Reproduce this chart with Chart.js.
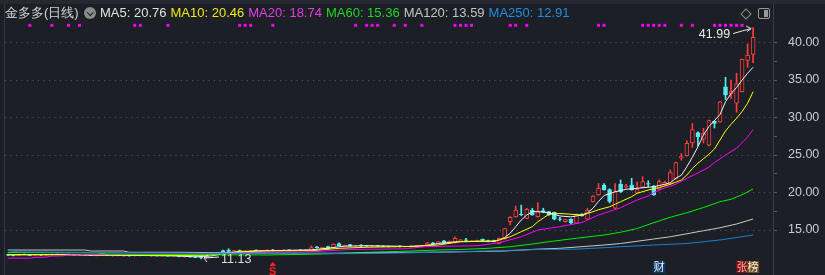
<!DOCTYPE html>
<html>
<head>
<meta charset="utf-8">
<script src="https://cdn.jsdelivr.net/npm/chart.js@4.4.1/dist/chart.umd.min.js"></script>
<style>
html, body { margin: 0; padding: 0; background: #1c1f26; }
#wrap { position: relative; width: 825px; height: 275px; overflow: hidden; background: #1c1f26; }
#kline { position: absolute; left: 0; top: 0; }
.topbar { position: absolute; left: 0; top: 0; width: 825px; height: 4px; background: #262930; }
.hd { position: absolute; top: 5px; font: 13px "Liberation Sans", Arial, sans-serif; line-height: 16px; white-space: nowrap; }
#legend { left: 100px; display: flex; gap: 4px; }
.ico { position: absolute; left: 84px; top: 7px; width: 12px; height: 12px; border-radius: 50%; background: #8a8a8a; }
.ico:after { content: ""; position: absolute; left: 3.5px; top: 2.5px; width: 3.5px; height: 3.5px; border-right: 1.5px solid #1c1f26; border-bottom: 1.5px solid #1c1f26; transform: rotate(45deg); }
.diamond { position: absolute; left: 742px; top: 10px; width: 6px; height: 6px; border: 1px solid #8a8a8a; transform: rotate(45deg); }
.panel { position: absolute; left: 758px; top: 8px; width: 10px; height: 9px; border: 1px solid #9a9a9a; border-radius: 2px; }
.panel:after { content: ""; position: absolute; right: 1px; top: 1px; width: 4px; height: 7px; background: #9a9a9a; }
</style>
</head>
<body>
<div id="wrap">
  <canvas id="kline" width="825" height="275"></canvas>
  <div class="topbar"></div>
  <div class="hd" style="left:5px;color:#d4d4d4">金多多(日线)</div>
  <div class="ico"></div>
  <div class="hd" id="legend"></div>
  <div class="diamond"></div>
  <div class="panel"></div>
</div>
<script>
// K线数据
const candleOpen = [
  11.70,11.65,11.62,11.75,11.72,11.60,11.68,11.66,11.70,11.76,
  11.72,11.74,11.70,11.66,11.72,11.68,11.62,11.60,11.70,11.56,
  11.66,11.52,11.58,11.55,11.60,11.64,11.52,11.58,11.54,11.56,
  11.52,11.66,11.40,11.48,11.42,11.36,11.30,11.65,11.80,12.25,
  12.30,12.10,12.26,12.18,12.12,12.32,12.24,12.20,12.36,12.28,
  12.30,12.34,12.25,12.34,12.27,12.22,12.75,12.52,12.78,12.64,
  13.20,12.85,13.05,12.85,12.95,12.88,12.86,12.90,12.84,12.82,
  12.76,12.88,12.78,12.80,12.74,12.82,13.00,13.30,13.20,13.57,
  13.30,13.30,13.50,13.70,13.52,13.50,13.76,13.60,13.60,13.20,
  13.80,16.10,16.77,17.10,16.56,17.67,16.77,17.60,17.44,17.36,
  16.50,16.10,16.43,15.90,17.10,16.43,18.77,19.67,21.00,20.40,
  17.90,21.13,20.70,21.00,19.90,20.70,21.20,20.87,20.43,21.00,
  21.13,21.80,24.60,24.90,26.60,28.00,27.10,26.30,29.50,29.40,
  34.10,33.13,31.90,33.44,37.60,38.40
];
const candleHigh = [
  11.78,11.72,11.80,11.82,11.76,11.70,11.75,11.72,11.80,11.82,
  11.78,11.80,11.75,11.74,11.76,11.72,11.70,11.72,11.74,11.68,
  11.70,11.62,11.64,11.66,11.68,11.68,11.62,11.62,11.60,11.62,
  11.58,11.70,11.52,11.56,11.50,11.45,11.70,11.85,12.05,12.32,
  12.50,12.28,12.34,12.26,12.30,12.38,12.30,12.38,12.42,12.34,
  12.36,12.40,12.32,12.40,12.34,12.90,12.82,12.72,12.84,13.15,
  13.28,13.00,13.10,12.95,13.05,12.95,12.94,12.96,12.90,12.88,
  12.86,12.92,12.84,12.88,12.86,12.90,13.35,13.36,13.48,13.62,
  13.54,14.10,13.74,13.90,13.60,13.64,13.80,13.66,13.66,13.92,
  15.22,16.80,18.20,18.33,17.90,17.90,18.64,17.90,17.50,17.40,
  16.70,16.45,16.50,17.15,17.20,17.90,19.60,21.20,21.20,20.50,
  21.20,21.67,21.10,21.90,21.40,22.10,21.57,20.95,21.70,21.50,
  23.00,24.05,25.20,26.90,29.20,28.10,28.56,29.65,29.60,32.15,
  35.36,35.00,35.90,37.80,39.80,41.99
];
const candleLow = [
  11.60,11.55,11.60,11.68,11.58,11.55,11.62,11.60,11.66,11.70,
  11.66,11.68,11.62,11.62,11.64,11.58,11.56,11.58,11.60,11.52,
  11.56,11.48,11.50,11.52,11.54,11.56,11.48,11.50,11.48,11.50,
  11.46,11.42,11.36,11.38,11.30,11.13,11.26,11.60,11.76,12.08,
  12.10,12.05,12.12,12.10,12.08,12.18,12.16,12.16,12.22,12.20,
  12.22,12.20,12.18,12.22,12.20,12.18,12.58,12.48,12.45,12.60,
  12.90,12.80,12.80,12.78,12.82,12.80,12.78,12.80,12.76,12.74,
  12.72,12.72,12.70,12.74,12.70,12.76,12.95,13.10,13.16,13.18,
  13.26,13.26,13.46,13.40,13.44,13.46,13.55,13.42,13.40,13.16,
  13.76,15.67,16.70,16.90,16.50,16.95,16.70,17.30,16.95,16.35,
  16.20,16.05,15.80,15.85,16.85,16.40,18.70,19.60,20.30,18.60,
  17.85,20.00,20.60,20.30,19.85,20.65,20.77,19.60,20.40,20.95,
  21.10,21.75,24.30,24.85,26.00,26.20,26.60,26.20,28.60,29.35,
  32.40,32.56,30.70,33.40,36.70,37.30
];
const candleClose = [
  11.65,11.62,11.75,11.72,11.60,11.68,11.66,11.70,11.76,11.72,
  11.74,11.70,11.66,11.72,11.68,11.62,11.67,11.70,11.64,11.66,
  11.60,11.58,11.55,11.62,11.64,11.60,11.58,11.54,11.56,11.52,
  11.55,11.48,11.48,11.42,11.36,11.30,11.65,11.80,11.97,12.12,
  12.15,12.24,12.18,12.20,12.26,12.24,12.26,12.33,12.28,12.30,
  12.26,12.25,12.28,12.27,12.24,12.64,12.62,12.68,12.50,13.10,
  12.92,12.95,12.85,12.90,12.88,12.86,12.90,12.84,12.82,12.80,
  12.82,12.78,12.80,12.78,12.82,12.86,13.30,13.12,13.44,13.20,
  13.50,13.90,13.70,13.60,13.56,13.60,13.60,13.45,13.45,13.90,
  15.20,16.70,17.67,17.00,17.76,17.00,17.44,17.45,17.00,16.43,
  16.40,16.40,15.97,17.10,16.90,17.67,19.53,20.56,20.33,18.80,
  20.10,20.10,20.90,20.33,20.40,21.44,21.10,19.67,21.44,21.36,
  22.64,24.00,24.80,26.56,28.40,27.40,27.90,29.60,29.20,32.10,
  33.00,33.44,34.50,37.76,38.30,40.70
];

// 均线 (取样点: K线序号 + 数值)
const ma5Idx = [0,5,10,15,20,25,30,34,37,40,45,50,55,58,61,65,70,73,76,78,81,85,88,89,90,91,92,93,94,95,96,98,100,102,104,105,106,107,108,110,112,114,117,119,120,121,122,123,124,125,126,127,128,129,130,131,132,133,134,135];
const ma5Val = [11.70,11.72,11.72,11.66,11.64,11.60,11.55,11.42,11.55,11.95,12.22,12.28,12.35,12.58,12.85,12.90,12.85,12.78,12.95,13.20,13.42,13.52,13.50,13.67,14.00,14.56,15.44,16.33,17.00,17.44,17.45,17.30,16.87,16.75,17.00,17.30,17.90,18.80,19.60,20.10,20.43,20.56,20.77,21.10,21.30,21.90,22.30,23.44,24.70,26.10,27.67,28.80,29.60,30.40,32.10,33.20,34.00,35.00,35.90,36.70];
const ma10Idx = [0,10,20,30,36,42,50,56,60,65,72,78,82,88,89,91,93,95,96,97,98,100,102,104,105,107,109,111,113,114,116,118,119,120,122,123,124,125,126,127,128,129,130,131,132,133,134,135];
const ma10Val = [11.70,11.70,11.65,11.60,11.62,12.15,12.22,12.30,12.56,12.70,12.80,13.00,13.44,13.50,13.67,14.10,14.77,15.44,16.10,16.60,17.10,17.20,17.10,17.00,17.20,17.70,18.10,18.77,19.44,19.90,20.33,20.65,20.87,21.10,21.67,22.33,23.20,23.90,24.50,25.10,25.80,27.00,28.20,29.10,29.90,30.80,31.90,33.44];
const ma20Idx = [0,4,5,7,8,10,11,13,14,28,35,42,47,55,62,68,72,76,85,89,93,96,100,104,107,111,112,114,116,117,119,121,123,125,127,128,130,132,134,135];
const ma20Val = [11.25,11.25,11.35,11.38,11.53,11.55,11.67,11.68,11.76,11.78,11.80,11.95,12.05,12.10,12.40,12.45,12.50,12.80,12.90,13.30,14.10,15.00,15.44,16.00,17.00,17.97,18.33,19.00,19.53,20.00,20.60,21.10,21.90,22.60,23.40,24.00,25.00,25.90,27.40,28.40];
const ma60Idx = [0,16,18,35,47,57,64,71,78,82,87,91,95,98,103,108,111,114,117,120,123,126,129,131,133,135];
const ma60Val = [12.00,11.95,11.80,11.70,11.67,11.80,12.00,12.15,12.33,12.40,12.56,12.77,13.13,13.44,13.90,14.33,14.70,15.20,15.97,16.70,17.30,18.00,18.77,19.10,19.70,20.47];
const ma120Idx = [0,14,15,21,22,31,47,62,70,78,90,96,100,108,111,117,120,123,126,129,132,135];
const ma120Val = [12.33,12.33,12.20,12.20,12.03,12.03,11.90,11.90,12.00,12.05,12.20,12.45,12.56,13.00,13.20,13.80,14.10,14.50,14.90,15.30,15.80,16.47];
const ma250Idx = [0,2,35,62,72,80,89,96,103,108,111,117,123,129,135];
const ma250Val = [12.24,12.10,11.90,11.85,11.95,12.07,12.24,12.40,12.45,12.64,12.77,13.00,13.20,13.67,14.33];

// 顶部图例文字
const maNames = ['MA5', 'MA10', 'MA20', 'MA60', 'MA120', 'MA250'];
const maLast = ['20.76', '20.46', '18.74', '15.36', '13.59', '12.91'];
const maTextColors = ['#e2e2e2', '#f2e812', '#e23ee2', '#22d422', '#c4c4c4', '#1f8ede'];
const maLineColors = ['#f2f2f2', '#ffff00', '#ff00ff', '#00f000', '#c8c8c8', '#1a80d0'];

// 信号点 (顶部紫色小方块) 所在K线
const signalIdx = [4,8,11,13,23,24,29,42,43,44,48,63,65,66,67,70,72,75,81,82,83,84,91,92,94,107,108,115,116,117,118,119,122,124,128,129,130,131,132,133];
const signalLevel = 42.29;

// 底部标记
const markIdx = [48, 118, 133, 135];
const markText = ['S', '财', '张', '榜'];
const markBg = [null, '#0d3b6b', '#7c0e0e', '#7a4a0c'];

const yTicks = [15, 17.5, 20, 22.5, 25, 27.5, 30, 32.5, 35, 37.5, 40];

const BG = '#1c1f26';
const UP = '#ff3c3c';
const DOWN = '#55eef0';

// 图例
const legend = document.getElementById('legend');
maNames.forEach((n, i) => {
  const s = document.createElement('span');
  s.style.color = maTextColors[i];
  s.textContent = n + ': ' + maLast[i];
  legend.appendChild(s);
});

const isUp = candleOpen.map((o, i) => candleClose[i] >= o);
const wickData = candleHigh.map((h, i) => ({ x: i, y: [candleLow[i], h] }));
const bodyData = candleOpen.map((o, i) => ({ x: i, y: [o, candleClose[i]] }));

function maSet(idx, val, color) {
  return {
    type: 'line',
    data: idx.map((x, i) => ({ x: x, y: val[i] })),
    borderColor: color,
    borderWidth: 1,
    pointRadius: 0,
    tension: 0,
    order: 0
  };
}

const annotate = {
  id: 'annotate',
  beforeDraw(chart) {
    const ctx = chart.ctx;
    ctx.save();
    ctx.strokeStyle = '#33363e';
    ctx.lineWidth = 1;
    ctx.beginPath();
    ctx.moveTo(4.5, 0);
    ctx.lineTo(4.5, chart.height);
    ctx.stroke();
    ctx.restore();
  },
  afterDatasetsDraw(chart) {
    const { ctx, scales: { x, y }, chartArea } = chart;
    ctx.save();
    // 最高价
    const hi = Math.max(...candleHigh);
    const hiI = candleHigh.indexOf(hi);
    const hx = x.getPixelForValue(hiI), hy = y.getPixelForValue(hi);
    ctx.fillStyle = '#ececec';
    ctx.strokeStyle = '#ececec';
    ctx.lineWidth = 1;
    ctx.font = '12.5px "Liberation Sans", Arial, sans-serif';
    ctx.textAlign = 'right';
    ctx.textBaseline = 'alphabetic';
    ctx.fillText(hi.toFixed(2), hx - 23, hy + 10.5);
    ctx.beginPath();
    ctx.moveTo(hx - 20, hy + 6);
    ctx.quadraticCurveTo(hx - 10, hy + 3, hx - 2, hy + 1);
    ctx.moveTo(hx - 2, hy + 1);
    ctx.lineTo(hx - 7, hy - 1.5);
    ctx.moveTo(hx - 2, hy + 1);
    ctx.lineTo(hx - 6, hy + 4);
    ctx.stroke();
    // 最低价
    const lo = Math.min(...candleLow);
    const loI = candleLow.indexOf(lo);
    const lx = x.getPixelForValue(loI), ly = y.getPixelForValue(lo);
    ctx.textAlign = 'left';
    ctx.fillStyle = '#dcdcdc';
    ctx.fillText(lo.toFixed(2), lx + 20, ly + 4);
    ctx.beginPath();
    ctx.moveTo(lx + 18, ly - 2);
    ctx.lineTo(lx + 3, ly - 1);
    ctx.moveTo(lx + 3, ly - 1);
    ctx.lineTo(lx + 7, ly - 4);
    ctx.moveTo(lx + 3, ly - 1);
    ctx.lineTo(lx + 6, ly + 3);
    ctx.stroke();
    // 底部标记
    const by = chartArea.bottom;
    markIdx.forEach((mi, k) => {
      const mx = x.getPixelForValue(mi);
      if (markBg[k] === null) {
        ctx.fillStyle = '#ff2020';
        ctx.beginPath();
        ctx.moveTo(mx, by - 13);
        ctx.lineTo(mx - 3.5, by - 9);
        ctx.lineTo(mx + 3.5, by - 9);
        ctx.closePath();
        ctx.fill();
        ctx.font = 'bold 11px "Liberation Sans", Arial, sans-serif';
        ctx.textAlign = 'center';
        ctx.fillText(markText[k], mx, by - 0.5);
      } else {
        ctx.fillStyle = markBg[k];
        ctx.fillRect(mx - 6, by - 14, 12, 12);
        ctx.fillStyle = k === 2 ? '#ffb0b0' : '#e8eef8';
        ctx.font = '11px "Noto Sans CJK SC", sans-serif';
        ctx.textAlign = 'center';
        ctx.textBaseline = 'middle';
        ctx.fillText(markText[k], mx, by - 8);
        ctx.textBaseline = 'alphabetic';
      }
    });
    ctx.restore();
  }
};

new Chart(document.getElementById('kline'), {
  type: 'bar',
  data: {
    datasets: [
      maSet(ma250Idx, ma250Val, maLineColors[5]),
      maSet(ma120Idx, ma120Val, maLineColors[4]),
      maSet(ma60Idx, ma60Val, maLineColors[3]),
      maSet(ma20Idx, ma20Val, maLineColors[2]),
      maSet(ma10Idx, ma10Val, maLineColors[1]),
      maSet(ma5Idx, ma5Val, maLineColors[0]),
      {
        type: 'scatter',
        data: signalIdx.map(i => ({ x: i, y: signalLevel })),
        pointStyle: 'rect',
        pointRadius: 2.1,
        pointBorderWidth: 0,
        backgroundColor: '#ff00ff',
        order: 0
      },
      {
        data: bodyData,
        grouped: false,
        barThickness: 4,
        borderWidth: 1,
        borderSkipped: false,
        borderColor: bodyData.map((d, i) => isUp[i] ? UP : DOWN),
        backgroundColor: bodyData.map((d, i) => isUp[i] ? BG : DOWN),
        order: 1
      },
      {
        data: wickData,
        grouped: false,
        barThickness: 1,
        borderWidth: 0,
        backgroundColor: wickData.map((d, i) => isUp[i] ? UP : DOWN),
        order: 2
      }
    ]
  },
  options: {
    responsive: false,
    animation: false,
    layout: { autoPadding: false, padding: { left: 5, right: 0, top: 0, bottom: 0 } },
    plugins: { legend: { display: false }, tooltip: { enabled: false } },
    scales: {
      x: { type: 'linear', min: -0.5, max: 138.6, offset: false, bounds: 'data', grace: 0, display: false },
      y: {
        position: 'right',
        min: 9,
        max: 45.667,
        bounds: 'data',
        grace: 0,
        afterBuildTicks: s => { s.ticks = yTicks.map(v => ({ value: v })); },
        afterFit: s => { s.width = 52; s.paddingTop = 0; s.paddingBottom = 0; },
        ticks: {
          color: '#c8ccd2',
          padding: 11,
          font: { size: 12.5, family: '"Liberation Sans", Arial, sans-serif' },
          callback: v => (v % 5 === 0 ? v.toFixed(2) : '')
        },
        grid: {
          color: c => (c.tick && c.tick.value % 5 === 0 ? '#575a62' : 'rgba(0,0,0,0)'),
          tickColor: '#575a62',
          tickLength: 4
        },
        border: { display: true, color: '#3a3d45', dash: [1, 4.5] }
      }
    }
  },
  plugins: [annotate]
});
</script>
</body>
</html>
